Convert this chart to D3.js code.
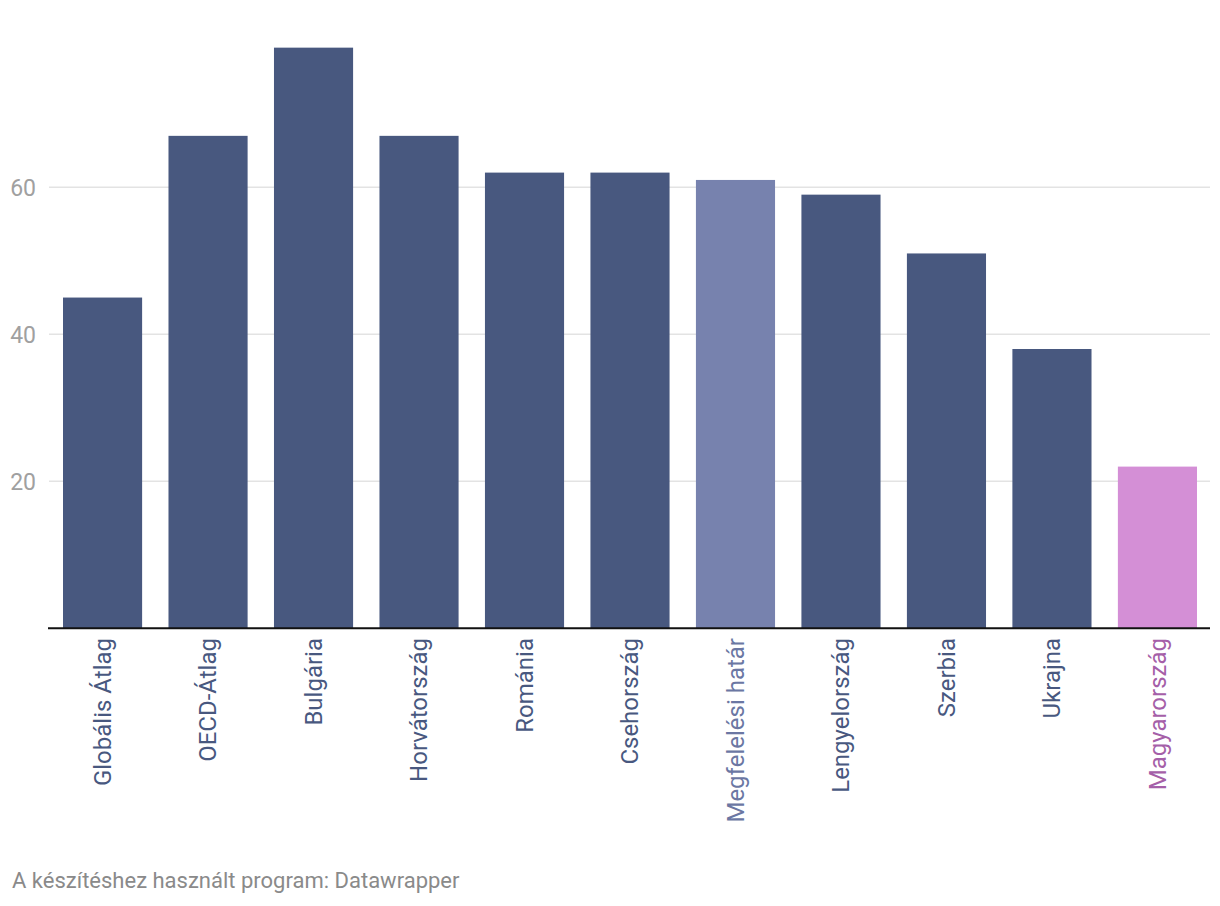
<!DOCTYPE html>
<html><head><meta charset="utf-8">
<script src="https://cdn.jsdelivr.net/npm/d3@7"></script>
<style>body{margin:0;background:#fff}svg{display:block;font-family:Roboto,sans-serif}</style>
</head><body>
<svg id="c" width="1220" height="906"></svg>
<script>
const categories = ["Globális Átlag","OECD-Átlag","Bulgária","Horvátország","Románia","Csehország","Megfelelési határ","Lengyelország","Szerbia","Ukrajna","Magyarország"];
const values = [45,67,79,67,62,62,61,59,51,38,22];
const yTicks = [20,40,60];
const barColors = {"Megfelelési határ":"#7782ae","Magyarország":"#d48fd6"};
const labelColors = {"Megfelelési határ":"#6b77a3","Magyarország":"#a55fa8"};
const defaultBar = "#48587f", defaultLabel = "#48587f";

const svg = d3.select("#c");
const x = d3.scaleBand().domain(categories).range([63,1197]).paddingInner(0.25).paddingOuter(0);
const y = d3.scaleLinear().domain([0,80]).range([628.3,40.3]);

// gridlines
svg.append("g").selectAll("line").data(yTicks).join("line")
  .attr("x1",49).attr("x2",1210).attr("y1",d=>y(d)).attr("y2",d=>y(d))
  .attr("stroke","#e3e3e3").attr("stroke-width",1.5);
svg.append("g").selectAll("text").data(yTicks).join("text")
  .attr("x",36).attr("y",d=>y(d)).attr("dy","0.36em").attr("text-anchor","end")
  .attr("fill","#a0a0a0").attr("font-size",23).text(d=>d);

// bars
svg.append("g").selectAll("rect").data(categories).join("rect")
  .attr("x",d=>x(d)).attr("width",x.bandwidth())
  .attr("y",(d,i)=>y(values[i])).attr("height",(d,i)=>y(0)-y(values[i]))
  .attr("fill",d=>barColors[d]||defaultBar);

// baseline
svg.append("line").attr("x1",48).attr("x2",1210).attr("y1",y(0)).attr("y2",y(0))
  .attr("stroke","#111").attr("stroke-width",2);

// category labels
svg.append("g").selectAll("text").data(categories).join("text")
  .attr("transform",d=>`translate(${x(d)+x.bandwidth()/2},638) rotate(-90)`)
  .attr("text-anchor","end").attr("dy","0.35em")
  .attr("font-size",24).attr("fill",d=>labelColors[d]||defaultLabel).text(d=>d);

// footer
svg.append("text").attr("x",12).attr("y",888).attr("font-size",22).attr("fill","#8a8a8a")
  .text("A készítéshez használt program: Datawrapper");
</script>
</body></html>
